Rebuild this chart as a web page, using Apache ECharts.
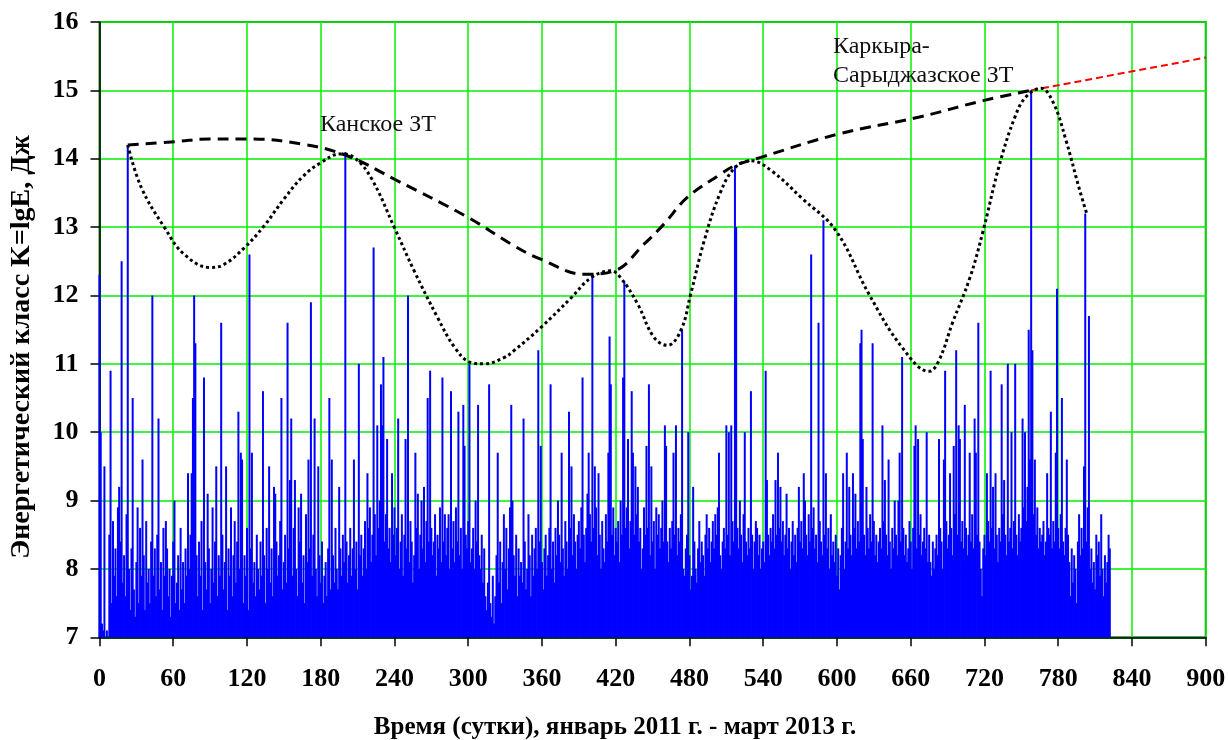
<!DOCTYPE html>
<html>
<head>
<meta charset="utf-8">
<script src="https://cdn.jsdelivr.net/npm/echarts@6/dist/echarts.min.js"></script>
<style>
html,body{margin:0;padding:0;background:#fff;}
#chart{width:1228px;height:740px;}
</style>
</head>
<body>
<div id="chart"></div>
<script>
// Energy class K of daily events, day 0 .. 822
const energyClass = [
12.3,10.0,7.2,7.1,9.5,7.0,7.1,7.0,8.5,10.9,
7.5,8.7,7.9,8.3,7.6,8.9,9.2,8.4,12.5,7.8,
8.2,7.6,8.8,14.2,8.0,7.4,8.3,10.5,7.7,7.3,
8.1,8.9,7.5,8.6,7.9,9.6,8.2,7.4,8.7,7.8,
8.0,7.5,8.4,12.0,7.9,8.3,7.6,8.5,10.2,7.7,
8.1,7.4,8.6,7.9,8.7,8.3,7.6,8.0,7.3,7.9,
8.4,9.0,7.5,7.8,8.2,7.4,8.6,7.7,8.1,7.5,
8.3,7.9,9.4,8.0,8.5,9.4,10.5,12.0,11.3,8.2,
7.6,8.4,7.9,8.7,7.4,10.8,8.1,7.7,9.1,8.3,
7.5,8.0,8.9,7.8,8.4,9.5,7.6,8.2,7.9,11.6,
8.5,7.7,8.1,9.5,7.4,8.3,7.9,8.9,7.6,8.2,
8.7,7.8,8.4,10.3,8.0,9.7,9.6,7.5,8.2,7.9,
8.6,7.4,12.6,8.3,9.7,7.8,8.1,7.6,8.5,8.0,
7.7,8.4,7.9,10.6,8.2,7.5,8.6,8.0,9.5,7.8,
8.3,7.6,9.2,9.1,8.4,7.9,8.2,8.7,10.5,7.7,
8.1,8.5,7.8,11.6,8.3,9.3,10.2,7.9,8.6,9.3,
8.0,7.6,8.9,8.4,9.1,7.8,8.2,7.5,8.8,8.1,
9.6,8.3,11.9,7.9,8.5,10.2,8.0,7.6,9.5,8.2,
7.8,8.4,7.5,7.9,8.1,7.6,8.3,10.5,7.7,9.6,
8.2,7.8,8.6,8.0,7.7,9.2,8.3,7.9,8.5,8.1,
14.1,8.4,7.8,8.2,8.6,7.9,8.3,9.6,8.0,8.4,
7.7,11.0,8.2,8.5,7.9,8.3,8.7,8.0,9.4,8.6,
8.9,8.1,8.5,12.7,8.8,8.2,10.1,8.6,9.0,10.7,
10.1,11.1,8.4,8.8,9.9,8.3,8.6,8.1,9.4,8.5,
8.9,8.2,8.6,10.2,8.0,8.4,8.8,7.9,8.5,9.9,
8.3,12.0,8.1,8.7,8.4,7.8,8.2,9.7,8.6,9.1,
8.0,8.5,9.0,8.3,9.2,8.1,8.7,10.5,8.4,10.9,
8.6,8.2,8.4,8.8,7.9,8.5,8.3,8.9,8.1,10.8,
8.4,8.8,8.2,8.6,8.8,8.0,10.6,8.3,8.7,8.1,
8.9,8.4,10.3,8.2,8.6,8.0,10.4,9.8,8.5,8.3,
8.7,11.0,8.1,8.3,8.6,8.0,9.0,8.4,10.4,8.2,
8.0,8.5,7.8,8.3,7.6,7.4,7.8,10.7,7.5,7.3,
7.9,7.2,7.6,8.2,9.7,7.8,8.4,7.5,8.1,8.8,
8.0,8.6,7.7,8.3,8.9,10.4,9.0,8.2,7.9,8.5,
7.6,8.3,7.9,8.1,7.8,10.2,8.4,7.7,8.0,8.8,
8.2,7.6,8.5,7.9,8.3,8.6,8.0,11.2,8.4,9.8,
8.1,7.7,8.3,8.5,7.9,8.2,8.6,10.7,8.0,8.4,
7.8,8.6,8.2,9.0,8.5,8.1,9.7,8.3,7.9,8.7,
8.4,8.0,10.3,8.6,9.5,8.2,8.8,8.4,8.0,8.5,
8.7,8.3,8.9,10.8,8.5,8.1,8.6,9.1,9.7,8.8,
8.4,12.3,8.6,9.5,8.9,8.2,9.4,8.5,8.0,8.7,
8.3,8.1,8.8,8.4,9.7,11.4,10.7,8.5,8.9,8.2,
8.6,8.4,8.7,8.1,9.0,8.5,10.8,12.2,8.6,8.9,
9.9,8.3,8.7,10.6,9.7,8.5,9.5,8.8,9.2,8.4,
8.6,8.0,8.3,8.9,8.5,9.8,8.6,10.7,8.2,9.5,
8.4,8.7,8.0,8.9,8.5,8.8,8.3,8.6,9.0,8.4,
10.1,9.8,8.4,8.1,8.6,8.3,8.7,9.7,8.5,10.1,
8.2,8.6,8.4,8.8,11.5,8.0,7.9,8.3,8.5,10.0,
8.2,7.7,7.9,9.2,8.4,8.0,7.8,8.3,8.7,8.1,
8.4,8.2,7.9,8.5,8.8,8.3,8.6,8.1,8.4,8.7,
8.3,8.8,8.5,8.9,9.7,8.2,8.0,8.4,8.6,8.3,
10.1,8.5,10.0,8.2,10.1,8.7,8.4,13.9,13.0,8.6,
8.3,9.0,8.5,8.1,8.8,10.0,8.4,8.2,8.6,8.3,
10.6,8.5,8.0,8.4,8.7,8.6,8.2,8.5,8.0,8.3,
8.4,8.1,10.9,9.3,8.5,8.2,8.6,8.4,8.8,8.3,
9.3,8.5,9.7,8.6,9.2,8.4,8.7,8.2,8.5,9.1,
8.3,8.6,8.0,8.4,8.7,8.2,8.5,8.1,8.6,9.2,
8.4,8.7,8.3,9.4,9.0,8.5,8.2,8.8,8.4,12.6,
8.6,8.9,8.3,8.5,8.1,11.6,8.7,8.4,8.2,13.1,
8.5,9.4,8.3,8.6,8.0,8.8,8.2,8.4,8.1,8.5,
7.9,8.3,7.7,8.2,8.6,9.4,8.0,8.4,9.7,8.3,
9.2,8.5,8.2,9.4,8.6,9.1,8.3,8.7,8.4,11.3,
11.5,9.9,8.5,8.2,9.2,8.6,8.3,8.8,8.4,11.3,
8.7,8.2,8.5,8.1,8.4,8.6,8.3,10.1,8.7,9.3,
8.5,8.2,9.6,8.4,8.0,8.6,8.3,9.0,8.5,8.2,
9.0,9.7,8.4,11.1,8.6,8.2,8.5,8.1,8.3,8.7,
8.4,8.0,8.6,9.8,10.1,8.3,9.9,8.5,8.8,8.2,
8.4,8.6,8.3,10.0,8.1,8.5,8.1,7.9,8.4,8.0,
8.3,8.5,8.2,9.9,8.6,8.4,8.0,9.6,10.9,8.7,
8.3,8.5,9.4,8.6,8.2,9.8,8.8,11.2,8.5,10.1,
9.9,8.4,8.7,8.3,10.4,8.6,8.2,8.5,9.7,8.4,
8.8,8.3,10.2,9.7,8.5,11.6,8.4,8.0,7.6,8.3,
8.5,8.2,9.4,8.7,8.4,10.9,8.6,9.2,8.3,9.4,
8.5,8.1,8.6,8.4,10.7,8.8,9.3,8.5,8.2,11.0,
8.4,8.6,10.0,8.3,8.7,11.0,8.5,8.2,8.8,8.4,
8.6,10.2,8.9,10.0,8.7,9.2,11.5,9.6,15.0,11.2,
8.8,9.6,8.5,8.9,8.3,8.6,8.4,8.5,8.7,8.2,
8.4,9.4,8.6,8.5,10.3,8.3,8.7,8.4,9.7,12.1,
8.6,8.3,8.8,10.5,8.4,8.2,8.6,9.6,8.5,8.1,
7.6,8.3,7.8,8.2,8.0,7.5,8.4,8.8,8.2,8.6,
8.3,9.5,13.2,8.4,8.9,11.7,8.0,8.3,7.8,8.1,
7.7,8.5,8.2,8.4,7.9,8.8,8.0,7.6,8.2,7.8,
8.1,8.5,8.3
];

// Dashed trend through the largest events
const trendDays = [23,62,90,120,166,202,240,300,337,359,395,419,443,459,478,505,517,538,601,667,719,758];
const trendK    = [14.2,14.25,14.29,14.29,14.21,14.04,13.7,13.14,12.73,12.53,12.31,12.36,12.75,13.04,13.43,13.77,13.9,14.02,14.36,14.61,14.85,15.0];

// Dotted envelope curve
const envDays = [23,34,53,69,90,101,118,134,150,166,180,196,207,221,240,256,275,289,302,313,329,337,359,384,400,416,424,438,451,462,473,481,492,505,517,530,547,571,599,626,653,675,683,694,708,719,732,745,754,766,776,786,797,803];
const envK    = [14.2,13.58,12.99,12.6,12.41,12.45,12.7,13.02,13.41,13.75,13.94,14.07,14.02,13.72,12.99,12.36,11.68,11.24,11.02,11.0,11.09,11.19,11.53,11.97,12.26,12.36,12.26,11.87,11.39,11.27,11.49,12.02,12.8,13.5,13.87,13.97,13.82,13.43,12.95,12.02,11.24,10.89,11.05,11.6,12.25,12.95,13.9,14.62,14.91,15.03,14.82,14.29,13.57,13.21];

// Red forecast extension
const forecastDays = [758, 900];
const forecastK    = [15.0, 15.48];

const xMin = 0, xMax = 900, xStep = 60;
const yMin = 7, yMax = 16, yStep = 1;

const labelKansk = 'Канское ЗТ';
const labelKarkyra = ['Каркыра-', 'Сарыджазское ЗТ'];
const xTitle = 'Время (сутки), январь 2011 г. - март 2013 г.';
const yTitle = 'Энергетический класс K=lgE, Дж';

const serif = "'Liberation Serif','Times New Roman',serif";

const barData = energyClass.map((v, i) => [i, v]);
const pairs = (xs, ys) => xs.map((x, i) => [x, ys[i]]);

const chart = echarts.init(document.getElementById('chart'), null, {renderer: 'canvas'});
chart.setOption({
  animation: false,
  backgroundColor: '#fff',
  grid: {
    left: 99.5, right: 22.3, top: 22, bottom: 102.7,
    show: true, borderColor: '#2e7d32', borderWidth: 2,
    outerBoundsMode: 'none'
  },
  xAxis: {
    type: 'value', min: xMin, max: xMax, interval: xStep,
    axisLine: {show: true, lineStyle: {color: '#000', width: 1.5}},
    axisTick: {show: true, inside: false, length: 9, lineStyle: {color: '#000', width: 1.5}},
    axisLabel: {margin: 29, color: '#000', fontFamily: serif, fontWeight: 'bold', fontSize: 26},
    splitLine: {show: true, lineStyle: {color: '#00f000', width: 1.5}}
  },
  yAxis: {
    type: 'value', min: yMin, max: yMax, interval: yStep,
    axisLine: {show: true, lineStyle: {color: '#000', width: 1.5}},
    axisTick: {show: true, inside: false, length: 9, lineStyle: {color: '#000', width: 1.5}},
    axisLabel: {margin: 21, color: '#000', fontFamily: serif, fontWeight: 'bold', fontSize: 26},
    splitLine: {show: true, lineStyle: {color: '#00f000', width: 1.5}}
  },
  series: [
    {
      type: 'bar', data: barData, barWidth: 2, clip: true,
      itemStyle: {color: '#0000ff'}, z: 2, silent: true
    },
    {
      type: 'line', data: pairs(forecastDays, forecastK), showSymbol: false, symbol: 'none',
      lineStyle: {color: '#ff0000', width: 2, type: [7, 4]}, z: 3
    },
    {
      type: 'line', data: pairs(trendDays, trendK), smooth: 0.4, showSymbol: false, symbol: 'none',
      lineStyle: {color: '#000', width: 3, type: [11, 7]}, z: 4
    },
    {
      type: 'line', data: pairs(envDays, envK), smooth: 0.4, showSymbol: false, symbol: 'none',
      lineStyle: {color: '#000', width: 3, type: [3, 3]}, z: 5
    }
  ],
  graphic: [
    {type: 'text', left: 320, top: 113, z: 10,
     style: {text: labelKansk, font: "24px " + serif, fill: '#111'}},
    {type: 'text', left: 833, top: 32, z: 10,
     style: {text: labelKarkyra.join('\n'), font: "24px " + serif, fill: '#111', lineHeight: 29}},
    {type: 'text', x: 615, y: 728, z: 10,
     style: {text: xTitle, font: "bold 25px " + serif, fill: '#000', align: 'center', verticalAlign: 'middle'}},
    {type: 'text', x: 22, y: 347, rotation: Math.PI / 2, z: 10,
     style: {text: yTitle, font: "bold 28px " + serif, fill: '#000', align: 'center', verticalAlign: 'middle'}}
  ]
});
</script>
</body>
</html>
